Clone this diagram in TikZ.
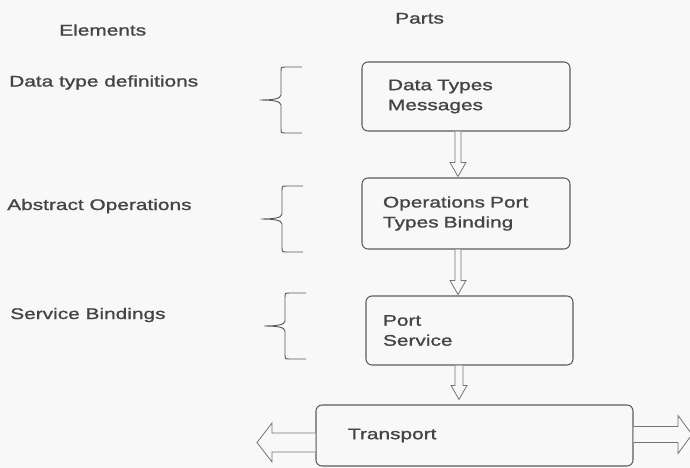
\documentclass[tikz,border=0pt]{standalone}
\usepackage{fontspec}
\setmainfont{Liberation Sans}[FakeStretch=1.36,FakeBold=1.2]
\usepackage{tikz}
\usetikzlibrary{calc}
\usepackage{color}
\definecolor{ink}{HTML}{444444}
\definecolor{rule}{HTML}{5A5A5A}
\definecolor{paper}{HTML}{F8F8F8}

% hollow arrow going down from one part to the next
\newcommand{\hollowdown}[5]{%
  \draw [flow] ($(#1.south)+(#3-#5,0)$)
    -- ($(#2.north -| #1.south)+(#3-#5,#4+14)$) -- ($(#2.north -| #1.south)+(#3-8,#4+14)$)
    -- ($(#2.north -| #1.south)+(#3,#4)$)
    -- ($(#2.north -| #1.south)+(#3+8,#4+14)$) -- ($(#2.north -| #1.south)+(#3+#5,#4+14)$)
    -- ($(#1.south)+(#3+#5,0)$);}

\begin{document}
\begin{tikzpicture}[x=0.75pt,y=0.75pt]
\tikzstyle{every node}+=[inner sep=0pt, text=ink, font=\fontsize{11.5}{15}\selectfont]
\tikzstyle{elemtext}=[anchor=base west]
\tikzstyle{part}=[draw=rule, line width=0.8pt, rounded corners=4.5pt, align=left, minimum width=156pt]
\tikzstyle{flow}=[draw=rule!85, line width=0.6pt, fill=paper, line join=miter]
\tikzstyle{curly}=[draw=rule, line width=0.7pt]

\fill [paper] (0,0) rectangle (690,-468);
\useasboundingbox (0,0) rectangle (690,-468);

\node [elemtext] (elemhead) at (59,-35.5) {Elements};
\node [elemtext] (parthead) at (395,-23.5) {Parts};

\node [elemtext] (typedefs) at (9,-86.5) {Data type definitions};
\node [elemtext] (abstractops) at (7,-210) {Abstract Operations};
\node [elemtext] (servbind) at (10,-319) {Service Bindings};

% braces between the two columns
\foreach \bx/\by in {302/67, 303/186, 306/293} {
  \draw [curly] (\bx,-\by) -- (\bx-16,-\by) .. controls (\bx-21,-\by) .. (\bx-21,-\by-5)
    -- (\bx-21,-\by-28) .. controls (\bx-21,-\by-32) and (\bx-30,-\by-33) .. (\bx-42,-\by-33)
    .. controls (\bx-30,-\by-33) and (\bx-21,-\by-34) .. (\bx-21,-\by-38)
    -- (\bx-21,-\by-61) .. controls (\bx-21,-\by-66) .. (\bx-16,-\by-66) -- (\bx,-\by-66);
}

\node [part, minimum height=51.75pt, inner xsep=19.5pt, text width=117pt] (types) at (466,-96.5) {Data Types\\Messages};
\node [part, minimum height=53.25pt, inner xsep=15.75pt, text width=124.5pt] (ops) at (466,-213.5) {Operations Port\\Types Binding};
\node [part, minimum width=155.25pt, minimum height=51.75pt, inner xsep=12.75pt, text width=129.75pt] (service) at (469.5,-330.5) {Port\\Service};
\node [part, minimum width=237.75pt, minimum height=45.75pt, inner xsep=24pt, text width=189.75pt] (transport) at (474.5,-435.5) {Transport};

\hollowdown{types}{ops}{-8}{1}{3}
\hollowdown{ops}{service}{-8}{1}{3}
\hollowdown{service}{transport}{-10.5}{5}{4}

\coordinate (leftend) at (257,-442.5);
\coordinate (rightend) at (692,-434.5);
\draw [flow] ($(leftend -| transport.west)+(0,9.5)$) -- ($(leftend)+(15,9.5)$) -- ($(leftend)+(15,19.5)$)
  -- (leftend) -- ($(leftend)+(15,-19.5)$) -- ($(leftend)+(15,-9.5)$) -- ($(leftend -| transport.west)+(0,-9.5)$);
\draw [flow] ($(rightend -| transport.east)+(0,8)$) -- ($(rightend)+(-14,8)$) -- ($(rightend)+(-14,19)$)
  -- (rightend) -- ($(rightend)+(-14,-19)$) -- ($(rightend)+(-14,-8)$) -- ($(rightend -| transport.east)+(0,-8)$);
\end{tikzpicture}
\end{document}
